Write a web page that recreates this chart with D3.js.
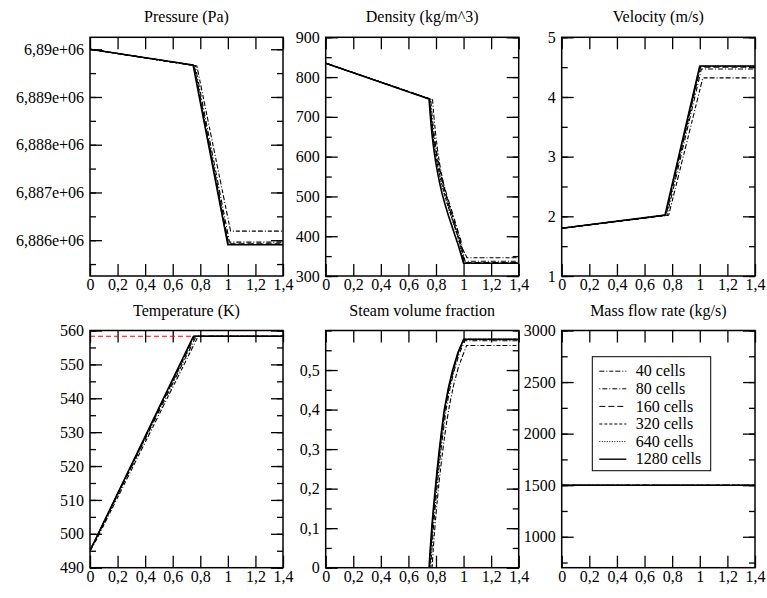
<!DOCTYPE html>
<html>
<head>
<meta charset="utf-8">
<script src="https://cdn.jsdelivr.net/npm/d3@7"></script>
<style>
body { margin: 0; background: #fff; }
svg { font-family: "Liberation Serif", "Times New Roman", serif; }
</style>
</head>
<body>
<svg width="767" height="598"></svg>
<script>
var cells = ["40 cells", "80 cells", "160 cells", "320 cells", "640 cells", "1280 cells"];

var xTicks = [0, 0.2, 0.4, 0.6, 0.8, 1, 1.2, 1.4];
var xTickLabels = ["0", "0,2", "0,4", "0,6", "0,8", "1", "1,2", "1,4"];

// every list below: 40, 80, 160, 320, 640, 1280 cells
var pressure = [
  [[0, 6890000], [0.775, 6889650], [1.02, 6886190], [1.4, 6886190]],
  [[0, 6890000], [0.763, 6889655], [1.012, 6885960], [1.4, 6885960]],
  [[0, 6890000], [0.756, 6889660], [1.006, 6885925], [1.4, 6885925]],
  [[0, 6890000], [0.752, 6889665], [1.003, 6885915], [1.4, 6885915]],
  [[0, 6890000], [0.75, 6889668], [1.001, 6885910], [1.4, 6885910]],
  [[0, 6890000], [0.748, 6889670], [1.0, 6885905], [1.4, 6885905]]
];
var pressureTicks = [6886000, 6887000, 6888000, 6889000, 6890000];
var pressureTickLabels = ["6,886e+06", "6,887e+06", "6,888e+06", "6,889e+06", "6,89e+06"];

var density = [
  [[0, 835], [0.775, 743], [0.782, 712], [0.79, 683], [0.8, 650], [0.812, 615], [0.826, 583], [0.845, 548],
   [0.872, 505], [0.9, 468], [0.93, 432], [0.96, 400], [0.99, 370], [1.025, 346], [1.4, 346]],
  [[0, 835], [0.762, 744], [0.767, 722], [0.773, 698], [0.781, 672], [0.79, 647], [0.8, 622], [0.812, 598],
   [0.827, 573], [0.85, 538], [0.876, 507], [0.902, 477], [0.93, 447], [0.955, 418], [0.98, 390], [1.01, 337], [1.4, 337]],
  [[0, 835], [0.756, 745], [0.761, 724], [0.767, 700], [0.775, 675], [0.784, 650], [0.794, 625], [0.806, 600],
   [0.821, 574], [0.845, 538], [0.87, 507], [0.896, 477], [0.923, 447], [0.95, 418], [0.975, 390], [1.005, 334], [1.4, 334]],
  [[0, 835], [0.753, 745], [0.757, 726], [0.763, 702], [0.77, 677], [0.779, 650], [0.79, 621], [0.802, 596],
   [0.815, 573], [0.83, 550], [0.85, 521], [0.87, 496], [0.895, 468], [0.92, 441], [0.945, 414], [0.97, 386],
   [0.99, 360], [1.002, 332], [1.4, 332]],
  [[0, 835], [0.751, 745], [0.755, 725], [0.761, 701], [0.768, 677], [0.777, 650], [0.788, 621], [0.8, 596],
   [0.813, 573], [0.828, 550], [0.847, 522], [0.867, 497], [0.892, 469], [0.917, 442], [0.942, 415], [0.966, 387],
   [0.985, 360], [1.001, 332], [1.4, 332]],
  [[0, 835], [0.75, 745], [0.754, 725], [0.759, 702], [0.765, 678], [0.772, 653], [0.78, 630], [0.79, 604],
   [0.8, 582], [0.812, 559], [0.826, 535], [0.845, 506], [0.865, 481], [0.89, 452], [0.915, 426], [0.938, 402],
   [0.96, 379], [0.98, 356], [1.0, 332], [1.4, 332]]
];

var velocity = [
  [[0, 1.8], [0.775, 2.02], [1.022, 4.32], [1.4, 4.32]],
  [[0, 1.8], [0.763, 2.02], [1.012, 4.47], [1.4, 4.47]],
  [[0, 1.8], [0.756, 2.02], [1.006, 4.5], [1.4, 4.5]],
  [[0, 1.8], [0.752, 2.02], [1.003, 4.51], [1.4, 4.51]],
  [[0, 1.8], [0.75, 2.02], [1.001, 4.52], [1.4, 4.52]],
  [[0, 1.8], [0.748, 2.02], [1.0, 4.52], [1.4, 4.52]]
];

var temperature = [
  [[0, 495], [0.05, 498.5], [0.785, 558.3], [1.4, 558.3]],
  [[0, 495], [0.04, 498.3], [0.77, 558.3], [1.4, 558.3]],
  [[0, 495], [0.76, 558.3], [1.4, 558.3]],
  [[0, 495], [0.755, 558.3], [1.4, 558.3]],
  [[0, 495], [0.752, 558.3], [1.4, 558.3]],
  [[0, 495], [0.75, 558.3], [1.4, 558.3]]
];
var saturationTemperature = 558.3;

var steam = [
  [[0, 0], [0.772, 0], [0.778, 0.035], [0.785, 0.07], [0.795, 0.115], [0.808, 0.165], [0.822, 0.215],
   [0.838, 0.265], [0.856, 0.315], [0.876, 0.365], [0.9, 0.415], [0.93, 0.465], [0.965, 0.51], [1.022, 0.562], [1.4, 0.562]],
  [[0, 0], [0.762, 0], [0.767, 0.03], [0.773, 0.06], [0.781, 0.1], [0.792, 0.145], [0.806, 0.197], [0.82, 0.247],
   [0.836, 0.298], [0.853, 0.345], [0.873, 0.399], [0.902, 0.455], [0.933, 0.5], [0.97, 0.543], [1.01, 0.574], [1.4, 0.574]],
  [[0, 0], [0.756, 0], [0.761, 0.03], [0.767, 0.06], [0.775, 0.1], [0.786, 0.145], [0.8, 0.197], [0.814, 0.247],
   [0.83, 0.298], [0.846, 0.345], [0.866, 0.399], [0.896, 0.455], [0.927, 0.5], [0.965, 0.545], [1.005, 0.577], [1.4, 0.577]],
  [[0, 0], [0.753, 0], [0.758, 0.03], [0.764, 0.06], [0.772, 0.1], [0.783, 0.145], [0.797, 0.197], [0.811, 0.247],
   [0.827, 0.298], [0.843, 0.345], [0.863, 0.399], [0.893, 0.455], [0.924, 0.5], [0.962, 0.545], [1.002, 0.578], [1.4, 0.578]],
  [[0, 0], [0.751, 0], [0.756, 0.03], [0.762, 0.06], [0.77, 0.1], [0.781, 0.145], [0.795, 0.197], [0.809, 0.247],
   [0.825, 0.298], [0.841, 0.345], [0.861, 0.399], [0.891, 0.455], [0.922, 0.5], [0.961, 0.545], [1.001, 0.578], [1.4, 0.578]],
  [[0, 0], [0.75, 0], [0.755, 0.03], [0.761, 0.06], [0.769, 0.1], [0.78, 0.145], [0.794, 0.197], [0.808, 0.247],
   [0.824, 0.298], [0.84, 0.345], [0.86, 0.399], [0.89, 0.455], [0.921, 0.5], [0.96, 0.545], [1.0, 0.578], [1.4, 0.578]]
];

var massFlow = [
  [[0, 1500], [1.4, 1500]],
  [[0, 1500], [1.4, 1500]],
  [[0, 1500], [1.4, 1500]],
  [[0, 1500], [1.4, 1500]],
  [[0, 1500], [1.4, 1500]],
  [[0, 1500], [1.4, 1500]]
];

var dashes = ["5,2,1,2,4,2", "1,2,5,2", "6,3", "3,2", "1,1.5", null];

var cols = [[90, 283], [325.7, 518.7], [561.7, 755]];
var rows = [[37.3, 276], [330.5, 567.7]];

var panels = [
  {title: "Pressure (Pa)", data: pressure, domain: [6885250, 6890250], ticks: pressureTicks,
   labels: pressureTickLabels, minor: 500, col: 0, row: 0},
  {title: "Density (kg/m^3)", data: density, domain: [300, 900], ticks: [300, 400, 500, 600, 700, 800, 900],
   labels: ["300", "400", "500", "600", "700", "800", "900"], minor: 50, col: 1, row: 0},
  {title: "Velocity (m/s)", data: velocity, domain: [1, 5], ticks: [1, 2, 3, 4, 5],
   labels: ["1", "2", "3", "4", "5"], minor: 0.5, col: 2, row: 0},
  {title: "Temperature (K)", data: temperature, domain: [490, 560], ticks: [490, 500, 510, 520, 530, 540, 550, 560],
   labels: ["490", "500", "510", "520", "530", "540", "550", "560"], minor: 5, col: 0, row: 1},
  {title: "Steam volume fraction", data: steam, domain: [0, 0.6], ticks: [0, 0.1, 0.2, 0.3, 0.4, 0.5],
   labels: ["0", "0,1", "0,2", "0,3", "0,4", "0,5"], minor: 0.05, col: 1, row: 1},
  {title: "Mass flow rate (kg/s)", data: massFlow, domain: [700, 3000], ticks: [1000, 1500, 2000, 2500, 3000],
   labels: ["1000", "1500", "2000", "2500", "3000"], minor: 250, col: 2, row: 1}
];

var svg = d3.select("svg");

function minorTicks(domain, step) {
  var out = [];
  var start = Math.ceil(domain[0] / step - 1e-9);
  for (var k = start; k * step <= domain[1] + 1e-9; k++) out.push(+(k * step).toFixed(6));
  return out;
}

function styleAxis(sel) {
  sel.select(".domain").remove();
  sel.selectAll("line").attr("stroke", "#000").attr("stroke-width", 1.3);
  sel.selectAll("text").attr("fill", "#000").attr("font-size", 16)
    .attr("font-family", "'Liberation Serif', 'Times New Roman', serif");
}

panels.forEach(function(p, pi) {
  var left = cols[p.col][0], right = cols[p.col][1];
  var top = rows[p.row][0], bottom = rows[p.row][1];
  var w = right - left, h = bottom - top;

  var x = d3.scaleLinear().domain([0, 1.4]).range([0, w]);
  var y = d3.scaleLinear().domain(p.domain).range([h, 0]);

  var g = svg.append("g").attr("transform", "translate(" + left + "," + top + ")");

  svg.append("clipPath").attr("id", "clip" + pi)
    .append("rect").attr("width", w).attr("height", h);

  var minor = minorTicks(p.domain, p.minor);

  // ticks on all four sides, pointing inward
  g.append("g").attr("transform", "translate(0," + h + ")")
    .call(d3.axisBottom(x).tickValues(xTicks).tickSizeInner(-12).tickSizeOuter(0).tickPadding(3)
      .tickFormat(function(d, i) { return xTickLabels[i]; }))
    .call(styleAxis);
  g.append("g")
    .call(d3.axisTop(x).tickValues(xTicks).tickSizeInner(-12).tickSizeOuter(0).tickFormat(""))
    .call(styleAxis);
  g.append("g")
    .call(d3.axisLeft(y).tickValues(p.ticks).tickSizeInner(-12).tickSizeOuter(0).tickPadding(6)
      .tickFormat(function(d, i) { return p.labels[i]; }))
    .call(styleAxis);
  g.append("g")
    .call(d3.axisLeft(y).tickValues(minor).tickSizeInner(-6).tickSizeOuter(0).tickFormat(""))
    .call(styleAxis);
  g.append("g").attr("transform", "translate(" + w + ",0)")
    .call(d3.axisRight(y).tickValues(p.ticks).tickSizeInner(-12).tickSizeOuter(0).tickFormat(""))
    .call(styleAxis);
  g.append("g").attr("transform", "translate(" + w + ",0)")
    .call(d3.axisRight(y).tickValues(minor).tickSizeInner(-6).tickSizeOuter(0).tickFormat(""))
    .call(styleAxis);

  var plot = g.append("g").attr("clip-path", "url(#clip" + pi + ")");

  if (p.data === temperature) {
    plot.append("line")
      .attr("x1", 0).attr("x2", w)
      .attr("y1", y(saturationTemperature)).attr("y2", y(saturationTemperature))
      .attr("stroke", "#f00")
      .attr("stroke-width", 1)
      .attr("stroke-dasharray", "5,3");
  }

  var line = d3.line()
    .x(function(d) { return x(d[0]); })
    .y(function(d) { return y(d[1]); });

  plot.selectAll(".series")
    .data(p.data)
    .enter().append("path")
    .attr("class", "series")
    .attr("d", line)
    .attr("fill", "none")
    .attr("stroke", "#000")
    .attr("stroke-linejoin", "round")
    .attr("stroke-width", function(d, i) { return i === 5 ? 1.6 : 1.1; })
    .attr("stroke-dasharray", function(d, i) { return dashes[i]; });

  g.append("rect")
    .attr("width", w).attr("height", h)
    .attr("fill", "none").attr("stroke", "#000").attr("stroke-width", 1.5);

  svg.append("text")
    .attr("x", (left + right) / 2)
    .attr("y", top - 15)
    .attr("text-anchor", "middle")
    .attr("font-size", 16)
    .text(p.title);

  if (p.data === massFlow) {
    var lg = svg.append("g").attr("transform", "translate(592.3,356.7)");
    lg.append("rect")
      .attr("width", 118.4).attr("height", 114)
      .attr("fill", "#fff").attr("stroke", "#000").attr("stroke-width", 1);
    var item = lg.selectAll(".item")
      .data(cells)
      .enter().append("g")
      .attr("class", "item")
      .attr("transform", function(d, i) { return "translate(0," + (14.5 + i * 17.6) + ")"; });
    item.append("line")
      .attr("x1", 7).attr("x2", 34)
      .attr("stroke", "#000")
      .attr("stroke-width", function(d, i) { return i === 5 ? 1.4 : 1; })
      .attr("stroke-dasharray", function(d, i) { return dashes[i]; });
    item.append("text")
      .attr("x", 43.5)
      .attr("dy", "0.32em")
      .attr("font-size", 16)
      .text(function(d) { return d; });
  }
});
</script>
</body>
</html>
